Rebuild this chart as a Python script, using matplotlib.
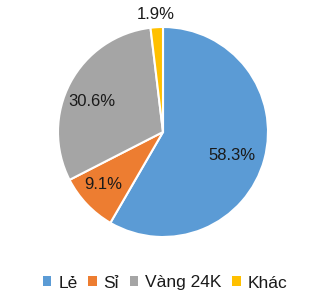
import matplotlib
matplotlib.use("Agg")
import matplotlib.pyplot as plt
import numpy as np

categories = ["Lẻ", "Sỉ", "Vàng 24K", "Khác"]
values = [58.3, 9.1, 30.6, 1.9]
pct_labels = ["58.3%", "9.1%", "30.6%", "1.9%"]
colors = ["#5B9BD5", "#ED7D31", "#A5A5A5", "#FFC000"]
label_r = [0.69, 0.76, 0.74, 1.12]
label_dang = [-3.8, -2.2, 4.6, 0.0]

plt.rcParams['font.family'] = ['Liberation Sans', 'DejaVu Sans']

W, H = 330, 298
fig = plt.figure(figsize=(W/100, H/100), dpi=100)
cx, cy, R = 163, 298 - 132, 105
ax = fig.add_axes([(cx - R)/W, (cy - R)/H, 2*R/W, 2*R/H])
wedges, _ = ax.pie(values, colors=colors, startangle=90, counterclock=False,
                   wedgeprops=dict(edgecolor="white", linewidth=1.5))
for w, lab, r, da in zip(wedges, pct_labels, label_r, label_dang):
    ang = np.deg2rad((w.theta1 + w.theta2) / 2 + da)
    ax.text(r*np.cos(ang), r*np.sin(ang), lab, ha="center", va="center",
            fontsize=12, color="#1a1a1a")
ax.set_xlim(-1, 1)
ax.set_ylim(-1, 1)
ax.set_aspect("equal")
ax.axis("off")

leg = fig.legend(wedges, categories, loc="center", bbox_to_anchor=(0.5, 1 - 283/H),
                 ncol=4, frameon=False, fontsize=12.5, handlelength=0.5, handleheight=0.5,
                 handletextpad=0.4, columnspacing=0.6, labelcolor="#1a1a1a")
for h in leg.legend_handles:
    h.set_edgecolor("none")

fig.savefig("out.png", dpi=100)
